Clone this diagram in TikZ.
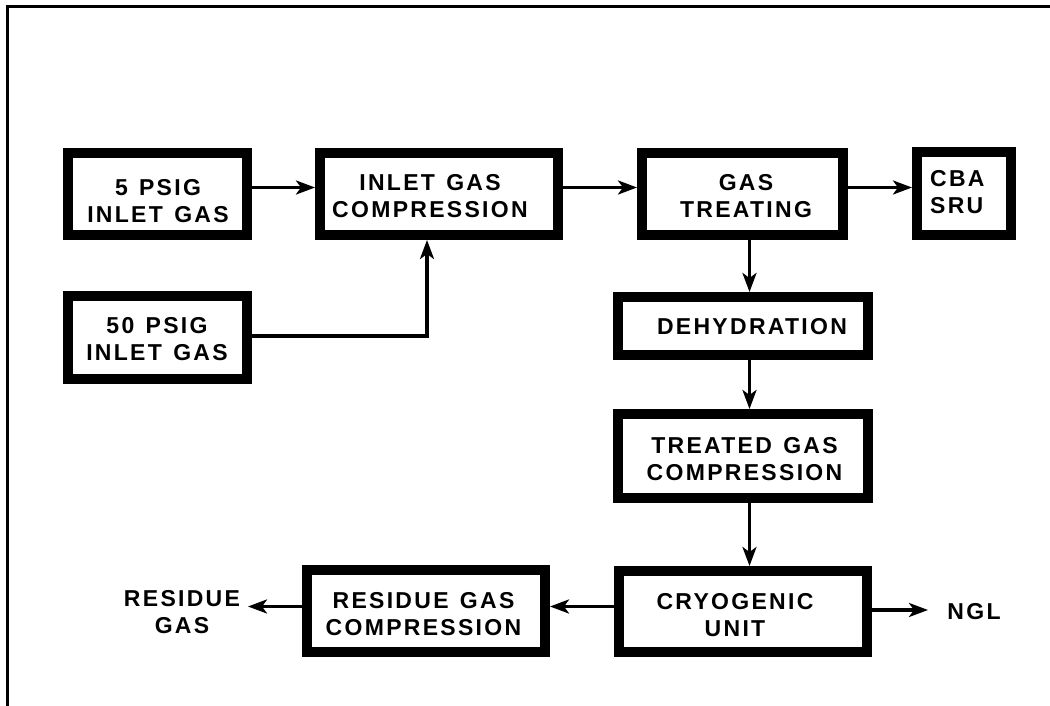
\documentclass[tikz,border=0pt]{standalone}
\usepackage{fontspec}
\setmainfont{Liberation Sans}
\newfontfamily\boxfont{Liberation Sans}[LetterSpace=10,WordSpace=1.3]
\usetikzlibrary{arrows.meta}
\tikzset{
  blk/.style={draw=black, line width=10pt, inner sep=0pt, fill=white},
  lbl/.style={font=\boxfont\bfseries\fontsize{23}{27}\selectfont, inner sep=0pt, align=center},
  arr/.style={line width=3.2pt, -{Stealth[length=19pt,width=14pt,inset=5pt]}},
  ln/.style={line width=3pt}
}
\begin{document}
\begin{tikzpicture}[x=1pt,y=-1pt]
\useasboundingbox (0,0) rectangle (1050,706);
% frame
\draw[line width=3pt] (7,706) -- (7,6.5) -- (1050,6.5);
% boxes
\node[blk, minimum width=179pt, minimum height=82pt] (p5) at (157.5,194) {};
\node[blk, minimum width=179pt, minimum height=83pt] (p50) at (157.5,337.5) {};
\node[blk, minimum width=238pt, minimum height=82pt] (igc) at (439,194) {};
\node[blk, minimum width=201pt, minimum height=82pt] (gt) at (742.5,194) {};
\node[blk, minimum width=94pt, minimum height=83pt] (cba) at (964,193.5) {};
\node[blk, minimum width=250pt, minimum height=58pt] (dehy) at (743,326) {};
\node[blk, minimum width=250pt, minimum height=84pt] (tgc) at (743,456) {};
\node[blk, minimum width=248pt, minimum height=81pt] (cryo) at (743,611.5) {};
\node[blk, minimum width=238pt, minimum height=82pt] (rgc) at (426,611) {};
% texts
\node[lbl] (t5) at (158,201) {5 PSIG\\INLET GAS};
\node[lbl] (t50) at (157,339) {50 PSIG\\INLET GAS};
\node[lbl] (tigc) at (430,196) {INLET GAS\\COMPRESSION};
\node[lbl] (tgt) at (746,196.5) {GAS\\TREATING};
\node[lbl, align=left, anchor=west] (tcba) at (930,192.5) {CBA\\SRU};
\node[lbl] (tdehy) at (752,326.5) {DEHYDRATION};
\node[lbl] (ttgc) at (744.5,459) {TREATED GAS\\COMPRESSION};
\node[lbl] (tcryo) at (735,615) {CRYOGENIC\\UNIT};
\node[lbl] (trgc) at (423.5,614.5) {RESIDUE GAS\\COMPRESSION};
\node[lbl] (resgas) at (182,612) {RESIDUE\\GAS};
\node[lbl] (ngl) at (974,611.5) {NGL};
% helper coordinates
\coordinate (hy) at (0,187.5);
\coordinate (vx) at (749.5,0);
\coordinate (ly) at (0,606.5);
\coordinate (ny) at (0,610);
\coordinate (j) at (427,336);
\coordinate (resend) at (248,606.5);
\coordinate (nglend) at (928,610);
% connectors
\draw[arr] (p5.east |- hy) -- (igc.west |- hy);
\draw[arr] (igc.east |- hy) -- (gt.west |- hy);
\draw[arr] (gt.east |- hy) -- (cba.west |- hy);
\draw[arr] (p50.east |- j) -- (j) -- (j |- igc.south);
\draw[arr] (gt.south -| vx) -- (dehy.north -| vx);
\draw[arr] (dehy.south -| vx) -- (tgc.north -| vx);
\draw[arr] (tgc.south -| vx) -- (cryo.north -| vx);
\draw[arr] (cryo.west |- ly) -- (rgc.east |- ly);
\draw[arr] (rgc.west |- ly) -- (resend);
\draw[arr] (cryo.east |- ny) -- (nglend);
\end{tikzpicture}
\end{document}
